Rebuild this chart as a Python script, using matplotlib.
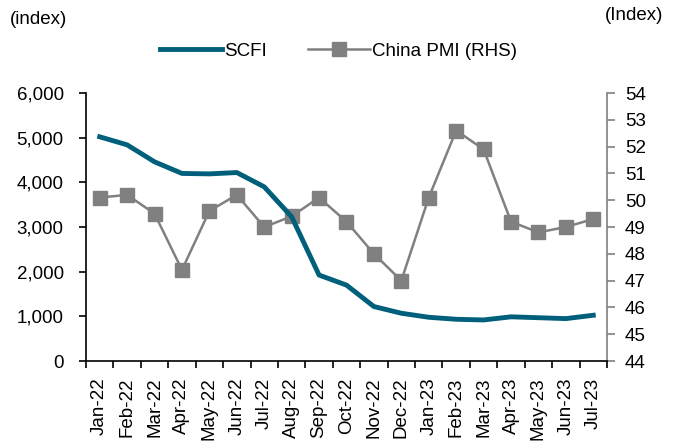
import numpy as np
import matplotlib.pyplot as plt

plt.rcParams['font.family'] = ['Liberation Sans', 'DejaVu Sans']

months = ["Jan-22", "Feb-22", "Mar-22", "Apr-22", "May-22", "Jun-22", "Jul-22",
          "Aug-22", "Sep-22", "Oct-22", "Nov-22", "Dec-22", "Jan-23", "Feb-23",
          "Mar-23", "Apr-23", "May-23", "Jun-23", "Jul-23"]
scfi = [5020, 4840, 4460, 4200, 4190, 4220, 3900, 3230, 1925, 1700, 1220,
        1070, 980, 935, 920, 990, 970, 950, 1025]
pmi = [50.1, 50.2, 49.5, 47.4, 49.6, 50.2, 49.0, 49.4, 50.1, 49.2, 48.0,
       47.0, 50.1, 52.6, 51.9, 49.2, 48.8, 49.0, 49.3]

x = np.arange(len(months))
fs = 13.5

fig = plt.figure(figsize=(6.77, 4.43), dpi=100)
ax = fig.add_axes([0.127, 0.185, 0.7696, 0.605])
ax2 = ax.twinx()

l1, = ax.plot(x, scfi, color="#005f7a", lw=3.5, label="SCFI", zorder=3)
l2, = ax2.plot(x, pmi, color="#808080", lw=1.8, marker="s", markersize=10,
               label="China PMI (RHS)")
ax.set_zorder(ax2.get_zorder() + 1)
ax.patch.set_visible(False)

ax.set_xlim(-0.5, len(months) - 0.5)
ax.set_ylim(0, 6000)
ax.set_yticks(range(0, 6001, 1000))
ax.set_yticklabels([f"{v:,}" for v in range(0, 6001, 1000)])
ax2.set_ylim(44, 54)
ax2.set_yticks(range(44, 55))

ax.set_xticks(np.arange(-0.5, len(months), 1))
ax.set_xticklabels([])
ax.set_xticks(x, minor=True)
ax.set_xticklabels(months, minor=True, rotation=90)
ax.tick_params(axis="x", which="minor", length=0, pad=12, labelsize=fs)
ax.tick_params(axis="x", which="major", length=5, width=1.2)
ax.tick_params(axis="y", length=5, width=1.2, labelsize=fs, pad=11)
ax2.tick_params(axis="y", length=6, width=1.2, colors="#808080",
                labelcolor="black", labelsize=fs, pad=7)

for s in ["top", "right"]:
    ax.spines[s].set_visible(False)
for s in ["top", "left", "bottom"]:
    ax2.spines[s].set_visible(False)
ax.spines["left"].set_linewidth(1.2)
ax.spines["bottom"].set_linewidth(1.2)
ax2.spines["right"].set_color("#808080")
ax2.spines["right"].set_linewidth(1.2)

fig.text(0.015, 0.955, "(index)", fontsize=fs, va="center")
fig.text(0.98, 0.965, "(Index)", fontsize=fs, va="center", ha="right")
fig.legend(handles=[l1, l2], loc="center", bbox_to_anchor=(0.5, 0.885),
           ncol=2, frameon=False, fontsize=fs, handlelength=3.3,
           columnspacing=2.2, handletextpad=0.1)

fig.savefig("out.png", dpi=100)
